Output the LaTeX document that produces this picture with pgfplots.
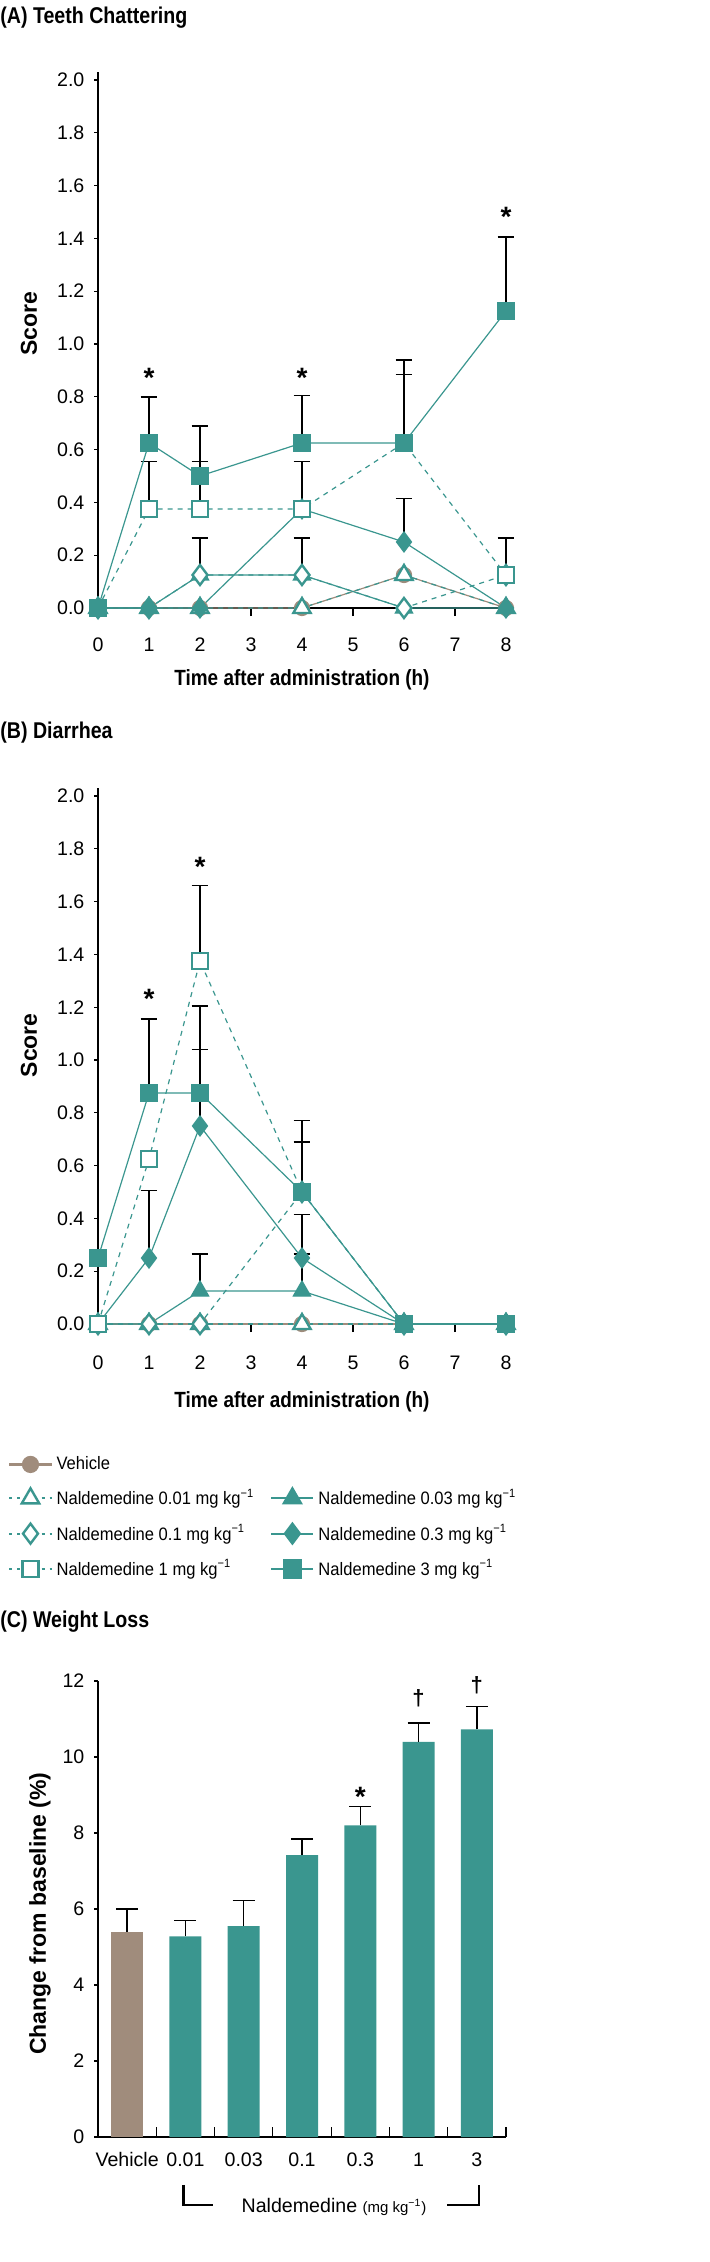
\documentclass[border=0pt]{standalone}
\usepackage{pgfplots}
\pgfplotsset{compat=1.18}
\usepackage{fontspec}
\setmainfont{Liberation Sans}
\newfontfamily\condfont{Liberation Sans}[FakeStretch=0.86]
\newfontfamily\legfont{Liberation Sans}[FakeStretch=0.92]
\definecolor{tl}{RGB}{58,150,143}
\definecolor{brn}{RGB}{160,140,124}

\pgfplotsset{
  every axis/.append style={
    scale only axis, axis lines=left, axis line style={-, line width=0.6pt},
    tick style={black, line width=0.6pt}, tick align=outside,
    tick label style={font=\fontsize{9.8}{11}\selectfont},
    yticklabel style={xshift=1pt},
    /pgf/number format/assume math mode=true,
    clip=false,
  },
  timepanel/.style={
    width=204pt, height=268pt, xmin=0, xmax=8, ymin=0, ymax=2.03,
    xtick={0,...,8}, ytick={0,0.2,0.4,0.6,0.8,1.0,1.2,1.4,1.6,1.8,2.0},
    yticklabel style={/pgf/number format/.cd, fixed, fixed zerofill, precision=1},
    xtick style={/pgfplots/major tick length=4pt},
    ytick style={/pgfplots/major tick length=2pt},
    ylabel={Score},
    ylabel style={font=\bfseries\fontsize{11.5}{13}\selectfont, at={(axis description cs:-0.169,0.53)}, anchor=center},
    xlabel={Time after administration (h)},
    xlabel style={font=\condfont\bfseries\fontsize{11}{13}\selectfont, at={(axis description cs:0.5,0)}, anchor=center},
  },
  ln/.style={tl, line width=0.6pt, solid},
  veh/.style={brn, line width=0.6pt, mark=*, mark size=3.75pt, mark options={fill=brn, draw=brn}},
  d001/.style={ln, dash pattern=on 2.5pt off 2.5pt, mark=triangle*, mark size=5pt, mark options={solid, fill=white, draw=tl, line width=1.2pt}},
  d003/.style={ln, mark=triangle*, mark size=5pt, mark options={fill=tl, draw=tl}},
  d01/.style={ln, dash pattern=on 2.5pt off 2.5pt, mark=diamond*, mark size=5pt, mark options={solid, fill=white, draw=tl, line width=1.2pt}},
  d03/.style={ln, mark=diamond*, mark size=5pt, mark options={fill=tl, draw=tl}},
  d1/.style={ln, dash pattern=on 2.5pt off 2.5pt, mark=square*, mark size=4pt, mark options={solid, fill=white, draw=tl, line width=1.2pt}},
  d3/.style={ln, mark=square*, mark size=4.25pt, mark options={fill=tl, draw=tl}},
  errb/.style={draw=none, mark=none, forget plot, error bars/.cd, y dir=plus, y explicit,
    error bar style={draw=black, line width=0.75pt, solid},
    error mark options={rotate=90, draw=black, line width=0.75pt, mark size=4.2pt}},
}

\begin{document}
\begin{tikzpicture}
\useasboundingbox (0,0) rectangle (354.5pt,-1131pt);

\node[anchor=west, inner sep=0pt, font=\condfont\bfseries\fontsize{11.4}{13}\selectfont] at (0pt,-9pt) {(A) Teeth Chattering};
\node[anchor=west, inner sep=0pt, font=\condfont\bfseries\fontsize{11.4}{13}\selectfont] at (0pt,-366.5pt) {(B) Diarrhea};
\node[anchor=west, inner sep=0pt, font=\condfont\bfseries\fontsize{11.4}{13}\selectfont] at (0pt,-811pt) {(C) Weight Loss};

% (A) teeth chattering
\begin{axis}[timepanel, at={(49pt,-304pt)}, anchor=south west,
  xticklabel style={yshift=-7pt},
  xlabel style={yshift=-36pt}]
\addplot[errb] coordinates {
  (1,0.625) +- (0,0.175) (1,0.375) +- (0,0.18)
  (2,0.5) +- (0,0.19) (2,0.375) +- (0,0.18) (2,0.125) +- (0,0.14)
  (4,0.625) +- (0,0.18) (4,0.375) +- (0,0.18) (4,0.125) +- (0,0.14)
  (6,0.625) +- (0,0.315) (6,0.625) +- (0,0.26) (6,0.25) +- (0,0.165)
  (8,1.125) +- (0,0.28) (8,0.125) +- (0,0.14)
};
\addplot[veh]  coordinates {(0,0) (1,0) (2,0) (4,0) (6,0.125) (8,0)};
\addplot[d001] coordinates {(0,0) (1,0) (2,0) (4,0) (6,0.125) (8,0)};
\addplot[d003] coordinates {(0,0) (1,0) (2,0.125) (4,0.125) (6,0) (8,0)};
\addplot[d01]  coordinates {(0,0) (1,0) (2,0.125) (4,0.125) (6,0) (8,0.125)};
\addplot[d03]  coordinates {(0,0) (1,0) (2,0) (4,0.375) (6,0.25) (8,0)};
\addplot[d1]   coordinates {(0,0) (1,0.375) (2,0.375) (4,0.375) (6,0.625) (8,0.125)};
\addplot[d3]   coordinates {(0,0) (1,0.625) (2,0.5) (4,0.625) (6,0.625) (8,1.125)};
\node[font=\bfseries\fontsize{14}{14}\selectfont] at (axis cs:1,0.87) {*};
\node[font=\bfseries\fontsize{14}{14}\selectfont] at (axis cs:4,0.87) {*};
\node[font=\bfseries\fontsize{14}{14}\selectfont] at (axis cs:8,1.48) {*};
\end{axis}

% (B) diarrhea
\begin{axis}[timepanel, at={(49pt,-662pt)}, anchor=south west,
  xticklabel style={yshift=-8pt},
  xlabel style={yshift=-39pt},
  ylabel style={at={(axis description cs:-0.169,0.52)}},
  legend columns=2, legend cell align=left,
  legend image code/.code={\draw[mark repeat=2,mark phase=2,line width=1.1pt] plot coordinates {(0pt,0pt) (10.5pt,0pt) (21pt,0pt)};},
  legend style={draw=none, fill=none, at={(axis description cs:-0.2206,-0.2388)}, anchor=north west,
    font=\legfont\fontsize{9}{10}\selectfont, inner sep=0pt, row sep=4.2pt,
    /tikz/every even column/.append style={column sep=6pt}}]
\addplot[errb] coordinates {
  (1,0.875) +- (0,0.28) (1,0.25) +- (0,0.255)
  (2,1.375) +- (0,0.285) (2,0.875) +- (0,0.33) (2,0.75) +- (0,0.29) (2,0.125) +- (0,0.14)
  (4,0.5) +- (0,0.27) (4,0.5) +- (0,0.19) (4,0.25) +- (0,0.165) (4,0.125) +- (0,0.14)
};
\addplot[veh, forget plot]  coordinates {(0,0) (1,0) (2,0) (4,0) (6,0) (8,0)};
\addplot[d001, forget plot] coordinates {(0,0) (1,0) (2,0) (4,0) (6,0) (8,0)};
\addplot[d003, forget plot] coordinates {(0,0) (1,0) (2,0.125) (4,0.125) (6,0) (8,0)};
\addplot[d01, forget plot]  coordinates {(0,0) (1,0) (2,0) (4,0.5) (6,0) (8,0)};
\addplot[d03, forget plot]  coordinates {(0,0) (1,0.25) (2,0.75) (4,0.25) (6,0) (8,0)};
\addplot[d1, forget plot]   coordinates {(0,0) (1,0.625) (2,1.375) (4,0.5) (6,0) (8,0)};
\addplot[d3, forget plot]   coordinates {(0,0.25) (1,0.875) (2,0.875) (4,0.5) (6,0) (8,0)};
\node[font=\bfseries\fontsize{14}{14}\selectfont] at (axis cs:1,1.23) {*};
\node[font=\bfseries\fontsize{14}{14}\selectfont] at (axis cs:2,1.73) {*};
\addlegendimage{veh}  \addlegendentry{Vehicle}
\addlegendimage{empty legend} \addlegendentry{}
\addlegendimage{d001, dash pattern=on 1.5pt off 2.5pt} \addlegendentry{Naldemedine 0.01 mg kg\textsuperscript{−1}}
\addlegendimage{d003} \addlegendentry{Naldemedine 0.03 mg kg\textsuperscript{−1}}
\addlegendimage{d01, dash pattern=on 1.5pt off 2.5pt}  \addlegendentry{Naldemedine 0.1 mg kg\textsuperscript{−1}}
\addlegendimage{d03}  \addlegendentry{Naldemedine 0.3 mg kg\textsuperscript{−1}}
\addlegendimage{d1, dash pattern=on 1.5pt off 2.5pt}   \addlegendentry{Naldemedine 1 mg kg\textsuperscript{−1}}
\addlegendimage{d3}   \addlegendentry{Naldemedine 3 mg kg\textsuperscript{−1}}
\end{axis}

% (C) weight loss
\begin{axis}[at={(49pt,-1068.5pt)}, anchor=south west,
  width=204pt, height=228pt, xmin=0, xmax=7, ymin=0, ymax=12,
  ytick={0,2,...,12}, ytick style={/pgfplots/major tick length=2pt},
  xtick={0.5,1.5,...,6.5}, xticklabels={Vehicle,0.01,0.03,0.1,0.3,1,3},
  xtick style={/pgfplots/major tick length=0pt},
  extra x ticks={1,...,7}, extra x tick labels={},
  extra x tick style={tick align=inside, xtick style={/pgfplots/major tick length=5pt}},
  ylabel={Change from baseline (\%)},
  ylabel style={font=\bfseries\fontsize{11.5}{13}\selectfont, at={(axis description cs:-0.142,0.49)}, anchor=center},
  ybar, bar width=16pt]
\addplot[fill=brn, draw=none, bar shift=0pt,
  error bars/.cd, y dir=plus, y explicit,
  error bar style={draw=black, line width=0.75pt},
  error mark options={rotate=90, draw=black, line width=0.75pt, mark size=5.5pt}]
  coordinates {(0.5,5.4) +- (0,0.6)};
\addplot[fill=tl, draw=none, bar shift=0pt,
  error bars/.cd, y dir=plus, y explicit,
  error bar style={draw=black, line width=0.75pt},
  error mark options={rotate=90, draw=black, line width=0.75pt, mark size=5.5pt}]
  coordinates {(1.5,5.28) +- (0,0.42) (2.5,5.55) +- (0,0.67) (3.5,7.42) +- (0,0.42)
               (4.5,8.2) +- (0,0.5) (5.5,10.4) +- (0,0.5) (6.5,10.73) +- (0,0.6)};
\node[font=\bfseries\fontsize{14}{14}\selectfont] at (axis cs:4.5,8.95) {*};
\node[font=\bfseries\fontsize{11}{11}\selectfont] at (axis cs:5.5,11.55) {†};
\node[font=\bfseries\fontsize{11}{11}\selectfont] at (axis cs:6.5,11.9) {†};
\draw[line width=1.2pt] (axis cs:1.47,-1.26) |- (axis cs:1.97,-1.79);
\draw[line width=1.2pt] (axis cs:5.99,-1.79) -| (axis cs:6.54,-1.26);
\node[font=\fontsize{9.8}{11}\selectfont] at (axis cs:4.05,-1.84) {Naldemedine {\fontsize{7.5}{9}\selectfont(mg kg\textsuperscript{−1})}};
\end{axis}
\end{tikzpicture}
\end{document}
